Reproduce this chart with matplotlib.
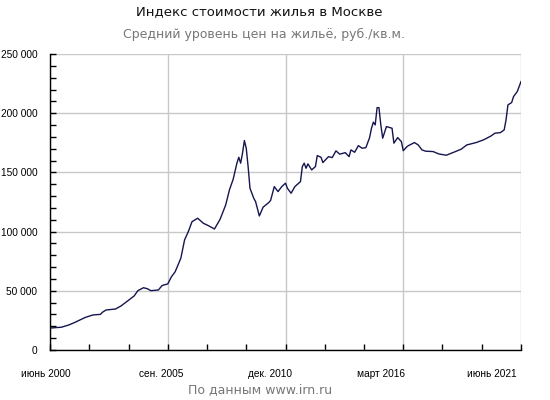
import matplotlib
matplotlib.use("Agg")
import matplotlib.pyplot as plt
from matplotlib.ticker import MultipleLocator, FuncFormatter
from matplotlib.transforms import ScaledTranslation

# months since June 2000 and average price, rub per sq.m.
months = [0, 3, 6, 10, 13, 19, 23, 27, 28, 30, 35, 38, 41, 45, 47, 50, 52, 54, 58,
          60, 63, 65, 67, 70, 72, 74, 76, 79, 82, 85, 88, 91, 94, 96, 98, 100, 101,
          102, 103, 104, 105, 106, 107, 109, 110, 112, 114, 117, 118, 120, 122, 124,
          126, 127, 129, 131, 134, 135, 136, 137, 138, 140, 142, 143, 145, 146, 149,
          151, 153, 155, 158, 160, 161, 163, 165, 167, 169, 171, 172, 173, 174, 175,
          176, 177, 178, 180, 183, 184, 186, 188, 189, 191, 192, 195, 197, 199, 201,
          205, 208, 212, 216, 220, 223, 228, 232, 236, 238, 241, 243, 244, 245, 247,
          248, 250, 252]
prices = [18500, 18900, 19200, 21100, 23100, 27600, 29600, 30100, 31800, 33800,
          34600, 37200, 40800, 45600, 50100, 52600, 51800, 50100, 50700, 54500,
          55800, 61900, 66200, 77500, 93000, 100000, 108400, 111300, 107100, 104800,
          102200, 110400, 122500, 135200, 144200, 157800, 162800, 157800, 166200,
          176900, 170400, 154900, 136600, 128200, 125300, 113200, 120600, 124500,
          126200, 138000, 133800, 138000, 140900, 136600, 132400, 138000, 142200,
          154900, 157800, 153500, 157200, 152100, 154900, 164200, 162800, 158300,
          163300, 162500, 168200, 165400, 166700, 163300, 169000, 167000, 172600,
          170400, 170900, 179400, 187300, 192400, 190100, 204700, 204700, 190100,
          178900, 188700, 187300, 174700, 179400, 176000, 168300, 171800, 172800,
          175200, 173200, 169000, 167900, 167600, 165600, 164500, 167000, 169600,
          173200, 175200, 177500, 180800, 183100, 183600, 185900, 194400, 207000,
          209000, 214000, 218300, 226700]

tick_months = [0, 63, 126, 189, 252]
tick_labels = ["июнь 2000", "сен. 2005", "дек. 2010", "март 2016", "июнь 2021"]
label_shift_px = [-4, -7, -16, -22, -29]

fig = plt.figure(figsize=(5.5, 4), dpi=100)
ax = fig.add_axes([50 / 550, 50 / 400, 471 / 550, 296 / 400])

ax.plot(months, prices, color="#15154f", lw=1.0)

ax.set_xlim(0, 252)
ax.set_ylim(0, 250000)
ax.set_xticks(tick_months)
ax.set_xticklabels(tick_labels)
ax.xaxis.set_minor_locator(MultipleLocator(21))
ax.yaxis.set_major_locator(MultipleLocator(50000))
ax.yaxis.set_minor_locator(MultipleLocator(10000))
ax.yaxis.set_major_formatter(FuncFormatter(lambda v, p: f"{int(v):,}".replace(",", " ")))

ax.grid(True, which="major", color="#c8c8c8", lw=1.0)
ax.set_axisbelow(True)
for s in ["top", "right"]:
    ax.spines[s].set_visible(False)
for s in ["left", "bottom"]:
    ax.spines[s].set_linewidth(1.0)

ax.tick_params(which="both", direction="in", length=4, width=1, color="black")
ax.tick_params(axis="y", pad=9)
ax.tick_params(axis="x", pad=14)
for lab in ax.get_yticklabels() + ax.get_xticklabels():
    lab.set_family(["Liberation Sans", "DejaVu Sans"])
    lab.set_fontsize(7.3)
for lab, dx in zip(ax.get_xticklabels(), label_shift_px):
    lab.set_transform(lab.get_transform() + ScaledTranslation(dx / 100, 0, fig.dpi_scale_trans))

fig.text(259 / 550, 1 - 12 / 400, "Индекс стоимости жилья в Москве", ha="center", va="center",
         fontsize=9.5, color="#111111", family="DejaVu Sans")
fig.text(264 / 550, 1 - 34 / 400, "Средний уровень цен на жильё, руб./кв.м.", ha="center",
         va="center", fontsize=9, color="#777777", family="DejaVu Sans")
fig.text(260 / 550, 1 - 390 / 400, "По данным www.irn.ru", ha="center", va="center",
         fontsize=9, color="#777777", family="DejaVu Sans")

fig.savefig("out.png", dpi=100)
